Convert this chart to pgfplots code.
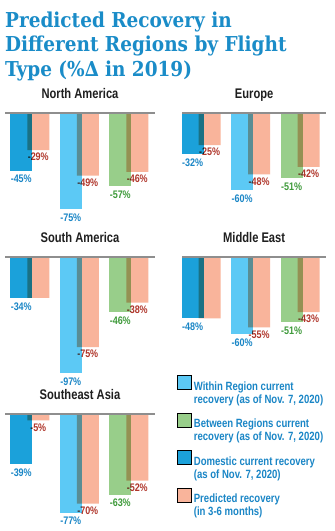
\documentclass[border=0pt]{standalone}
\usepackage{pgfplots}
\pgfplotsset{compat=1.18}
\usepackage{fontspec}
\setmainfont{Liberation Sans}
\newfontfamily\cond[FakeStretch=0.8]{Liberation Sans}
\newfontfamily\condl[FakeStretch=0.82]{Liberation Sans}
\newfontfamily\titlefont{DejaVu Serif Condensed}
\definecolor{cDom}{HTML}{1BA1DA}
\definecolor{cWit}{HTML}{5CC9F5}
\definecolor{cBet}{HTML}{98CE8A}
\definecolor{cPre}{HTML}{F9B49B}
\definecolor{lBlue}{HTML}{1A86C6}
\definecolor{lGreen}{HTML}{3E9A3A}
\definecolor{lRed}{HTML}{B0362B}
\definecolor{tBlue}{HTML}{1A8CC8}
\definecolor{axgray}{HTML}{8E8E8E}
\pgfplotsset{
  panel/.style={
    x=49.5bp, y=1.28bp, ymin=-100, ymax=0,
    axis x line*=top, axis y line=none,
    axis line style={draw=axgray, line width=1.3bp},
    xtick=\empty, ytick=\empty,
    clip=false, axis on top,
    ybar, bar width=22bp,
    point meta=explicit symbolic,
    title style={font=\cond\bfseries\fontsize{14}{16}\selectfont, text=black!88, at={(0.5,1)}, anchor=base, yshift=8.5bp},
  },
  panelL/.style={panel, xmin=-0.5, xmax=2.53},
  panelR/.style={panel, xmin=-0.384, xmax=2.53},
  lab/.style 2 args={nodes near coords, every node near coord/.append style={font=\condl\bfseries\fontsize{11}{13}\selectfont, inner sep=0.5bp, anchor=north, yshift=-#1, text=#2}},
  mainbar/.style={draw=none, fill=#1, bar shift=-8.5bp, forget plot},
  predbar/.style={draw=none, fill=cPre, bar shift=8.5bp, forget plot, blend mode=multiply, lab={2.5bp}{lRed}},
  mlab/.style={lab={4bp}{#1}},
  sqlegend/.style={legend image code/.code={\fill[##1] (0bp,-3bp) rectangle (14bp,11bp);}},
}
\begin{document}
\begin{tikzpicture}
\path[use as bounding box, fill=white] (0,0) rectangle (335bp,-531bp);
\node[anchor=base west, inner sep=0, text=tBlue, font=\titlefont\bfseries\fontsize{20.6}{24}\selectfont] at (5bp,-27bp) {Predicted Recovery in};
\node[anchor=base west, inner sep=0, text=tBlue, font=\titlefont\bfseries\fontsize{20.6}{24}\selectfont] at (5bp,-51.5bp) {Different Regions by Flight};
\node[anchor=base west, inner sep=0, text=tBlue, font=\titlefont\bfseries\fontsize{20.6}{24}\selectfont] at (5bp,-76bp) {Type (\%∆ in 2019)};

% North America
\begin{axis}[panelL, at={(5bp,-113bp)}, anchor=north west, title={North America}]
\addplot[mainbar=cDom, mlab=lBlue] coordinates {(0,-45) [-45\%]};
\addplot[mainbar=cWit, mlab=lBlue] coordinates {(1,-75) [-75\%]};
\addplot[mainbar=cBet, mlab=lGreen] coordinates {(2,-57) [-57\%]};
\addplot[predbar] coordinates {(0,-29) [-29\%] (1,-49) [-49\%] (2,-46) [-46\%]};
\end{axis}

% Europe
\begin{axis}[panelR, at={(182bp,-113bp)}, anchor=north west, title={Europe}]
\addplot[mainbar=cDom, mlab=lBlue] coordinates {(0,-32) [-32\%]};
\addplot[mainbar=cWit, mlab=lBlue] coordinates {(1,-60) [-60\%]};
\addplot[mainbar=cBet, mlab=lGreen] coordinates {(2,-51) [-51\%]};
\addplot[predbar] coordinates {(0,-25) [-25\%] (1,-48) [-48\%] (2,-42) [-42\%]};
\end{axis}

% South America
\begin{axis}[panelL, y=1.2bp, at={(5bp,-257bp)}, anchor=north west, title={South America}]
\addplot[mainbar=cDom, mlab=lBlue] coordinates {(0,-34) [-34\%]};
\addplot[mainbar=cWit, mlab=lBlue] coordinates {(1,-97) [-97\%]};
\addplot[mainbar=cBet, mlab=lGreen] coordinates {(2,-46) [-46\%]};
\addplot[predbar] coordinates {(0,-34) [] (1,-75) [-75\%] (2,-38) [-38\%]};
\end{axis}

% Middle East
\begin{axis}[panelR, at={(182bp,-257bp)}, anchor=north west, title={Middle East}]
\addplot[mainbar=cDom, mlab=lBlue] coordinates {(0,-48) [-48\%]};
\addplot[mainbar=cWit, mlab=lBlue] coordinates {(1,-60) [-60\%]};
\addplot[mainbar=cBet, mlab=lGreen] coordinates {(2,-51) [-51\%]};
\addplot[predbar] coordinates {(0,-48) [] (1,-55) [-55\%] (2,-43) [-43\%]};
\end{axis}

% Southeast Asia
\begin{axis}[panelL, at={(5bp,-414bp)}, anchor=north west, title={Southeast Asia},
  legend style={at={(axis cs:2.98,30.5)}, anchor=north west, draw=none, fill=none, inner sep=0pt,
    row sep=19bp, font=\cond\bfseries\fontsize{12}{13}\selectfont, text=lBlue, cells={anchor=west}},
  legend cell align=left]
\addplot[mainbar=cDom, mlab=lBlue] coordinates {(0,-39) [-39\%]};
\addplot[mainbar=cWit, mlab=lBlue] coordinates {(1,-77) [-77\%]};
\addplot[mainbar=cBet, mlab=lGreen] coordinates {(2,-63) [-63\%]};
\addplot[predbar] coordinates {(0,-5) [-5\%] (1,-70) [-70\%] (2,-52) [-52\%]};
\addlegendimage{sqlegend, fill=cWit}
\addlegendentry{\begin{tabular}[t]{@{}l@{}}Within Region current\\recovery (as of Nov. 7, 2020)\end{tabular}}
\addlegendimage{sqlegend, fill=cBet}
\addlegendentry{\begin{tabular}[t]{@{}l@{}}Between Regions current\\recovery (as of Nov. 7, 2020)\end{tabular}}
\addlegendimage{sqlegend, fill=cDom}
\addlegendentry{\begin{tabular}[t]{@{}l@{}}Domestic current recovery\\(as of Nov. 7, 2020)\end{tabular}}
\addlegendimage{sqlegend, fill=cPre}
\addlegendentry{\begin{tabular}[t]{@{}l@{}}Predicted recovery\\(in 3-6 months)\end{tabular}}
\end{axis}
\end{tikzpicture}
\end{document}
